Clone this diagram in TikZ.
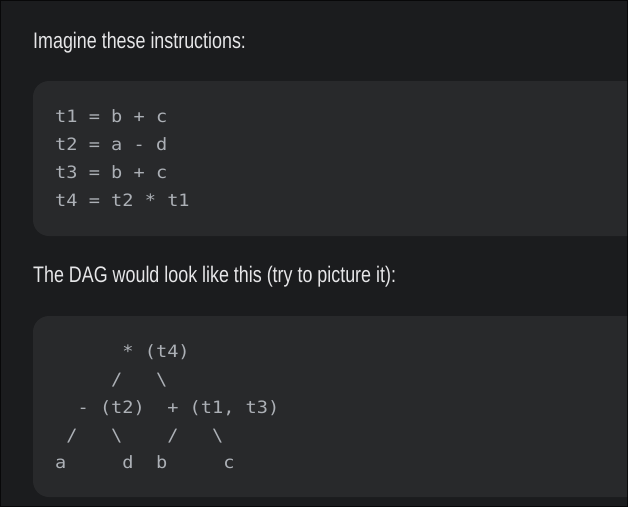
\documentclass[tikz,border=0pt]{standalone}
\usepackage{fontspec}
\usepackage{graphicx}
\setmainfont{Liberation Sans}
\newfontfamily\codefont{DejaVu Sans Mono}
\definecolor{framecol}{RGB}{8,8,9}
\definecolor{pagebg}{RGB}{27,28,30}
\definecolor{blockbg}{RGB}{40,41,43}
\definecolor{prosecol}{RGB}{230,230,232}
\definecolor{codecol}{RGB}{172,176,182}
\newcommand{\prosetext}[1]{\scalebox{0.795}[1]{#1}}
\newcommand{\codetext}[1]{\scalebox{1.095}[1]{#1}}
\tikzset{
  prose/.style={anchor=base west, inner sep=0pt, text=prosecol,
    font=\fontsize{22.5}{27}\selectfont},
  codeline/.style={anchor=base west, inner sep=0pt, text=codecol,
    font=\fontsize{17}{20}\codefont},
  codeblock/.style={fill=blockbg, rounded corners=16pt}
}
\begin{document}
\begin{tikzpicture}[x=1pt,y=-1pt]
\useasboundingbox (0,0) rectangle (628,507);
\fill[framecol] (0,0) rectangle (628,507);
\fill[pagebg] (1,1) rectangle (627,506);
\begin{scope}
  \clip (1,1) rectangle (627,506);
  \fill[codeblock] (33,81) rectangle (660,236);
  \fill[codeblock] (33,316) rectangle (660,497);
\end{scope}
\node[prose] (intro) at (33,48.3) {\prosetext{Imagine these instructions:}};
\node[codeline] (c1) at (55,122.7) {\codetext{t1~=~b~+~c}};
\node[codeline] (c2) at (55,150.5) {\codetext{t2~=~a~-~d}};
\node[codeline] (c3) at (55,178.3) {\codetext{t3~=~b~+~c}};
\node[codeline] (c4) at (55,206.1) {\codetext{t4~=~t2~*~t1}};
\node[prose] (dagintro) at (33,282.3) {\prosetext{The DAG would look like this (try to picture it):}};
\node[codeline] (d1) at (55,357.3) {\codetext{~~~~~~*~(t4)}};
\node[codeline] (d2) at (55,385.2) {\codetext{~~~~~/~~~\textbackslash}};
\node[codeline] (d3) at (55,413.1) {\codetext{~~-~(t2)~~+~(t1,~t3)}};
\node[codeline] (d4) at (55,441.0) {\codetext{~/~~~\textbackslash~~~~/~~~\textbackslash}};
\node[codeline] (d5) at (55,468.9) {\codetext{a~~~~~d~~b~~~~~c}};
\end{tikzpicture}
\end{document}
